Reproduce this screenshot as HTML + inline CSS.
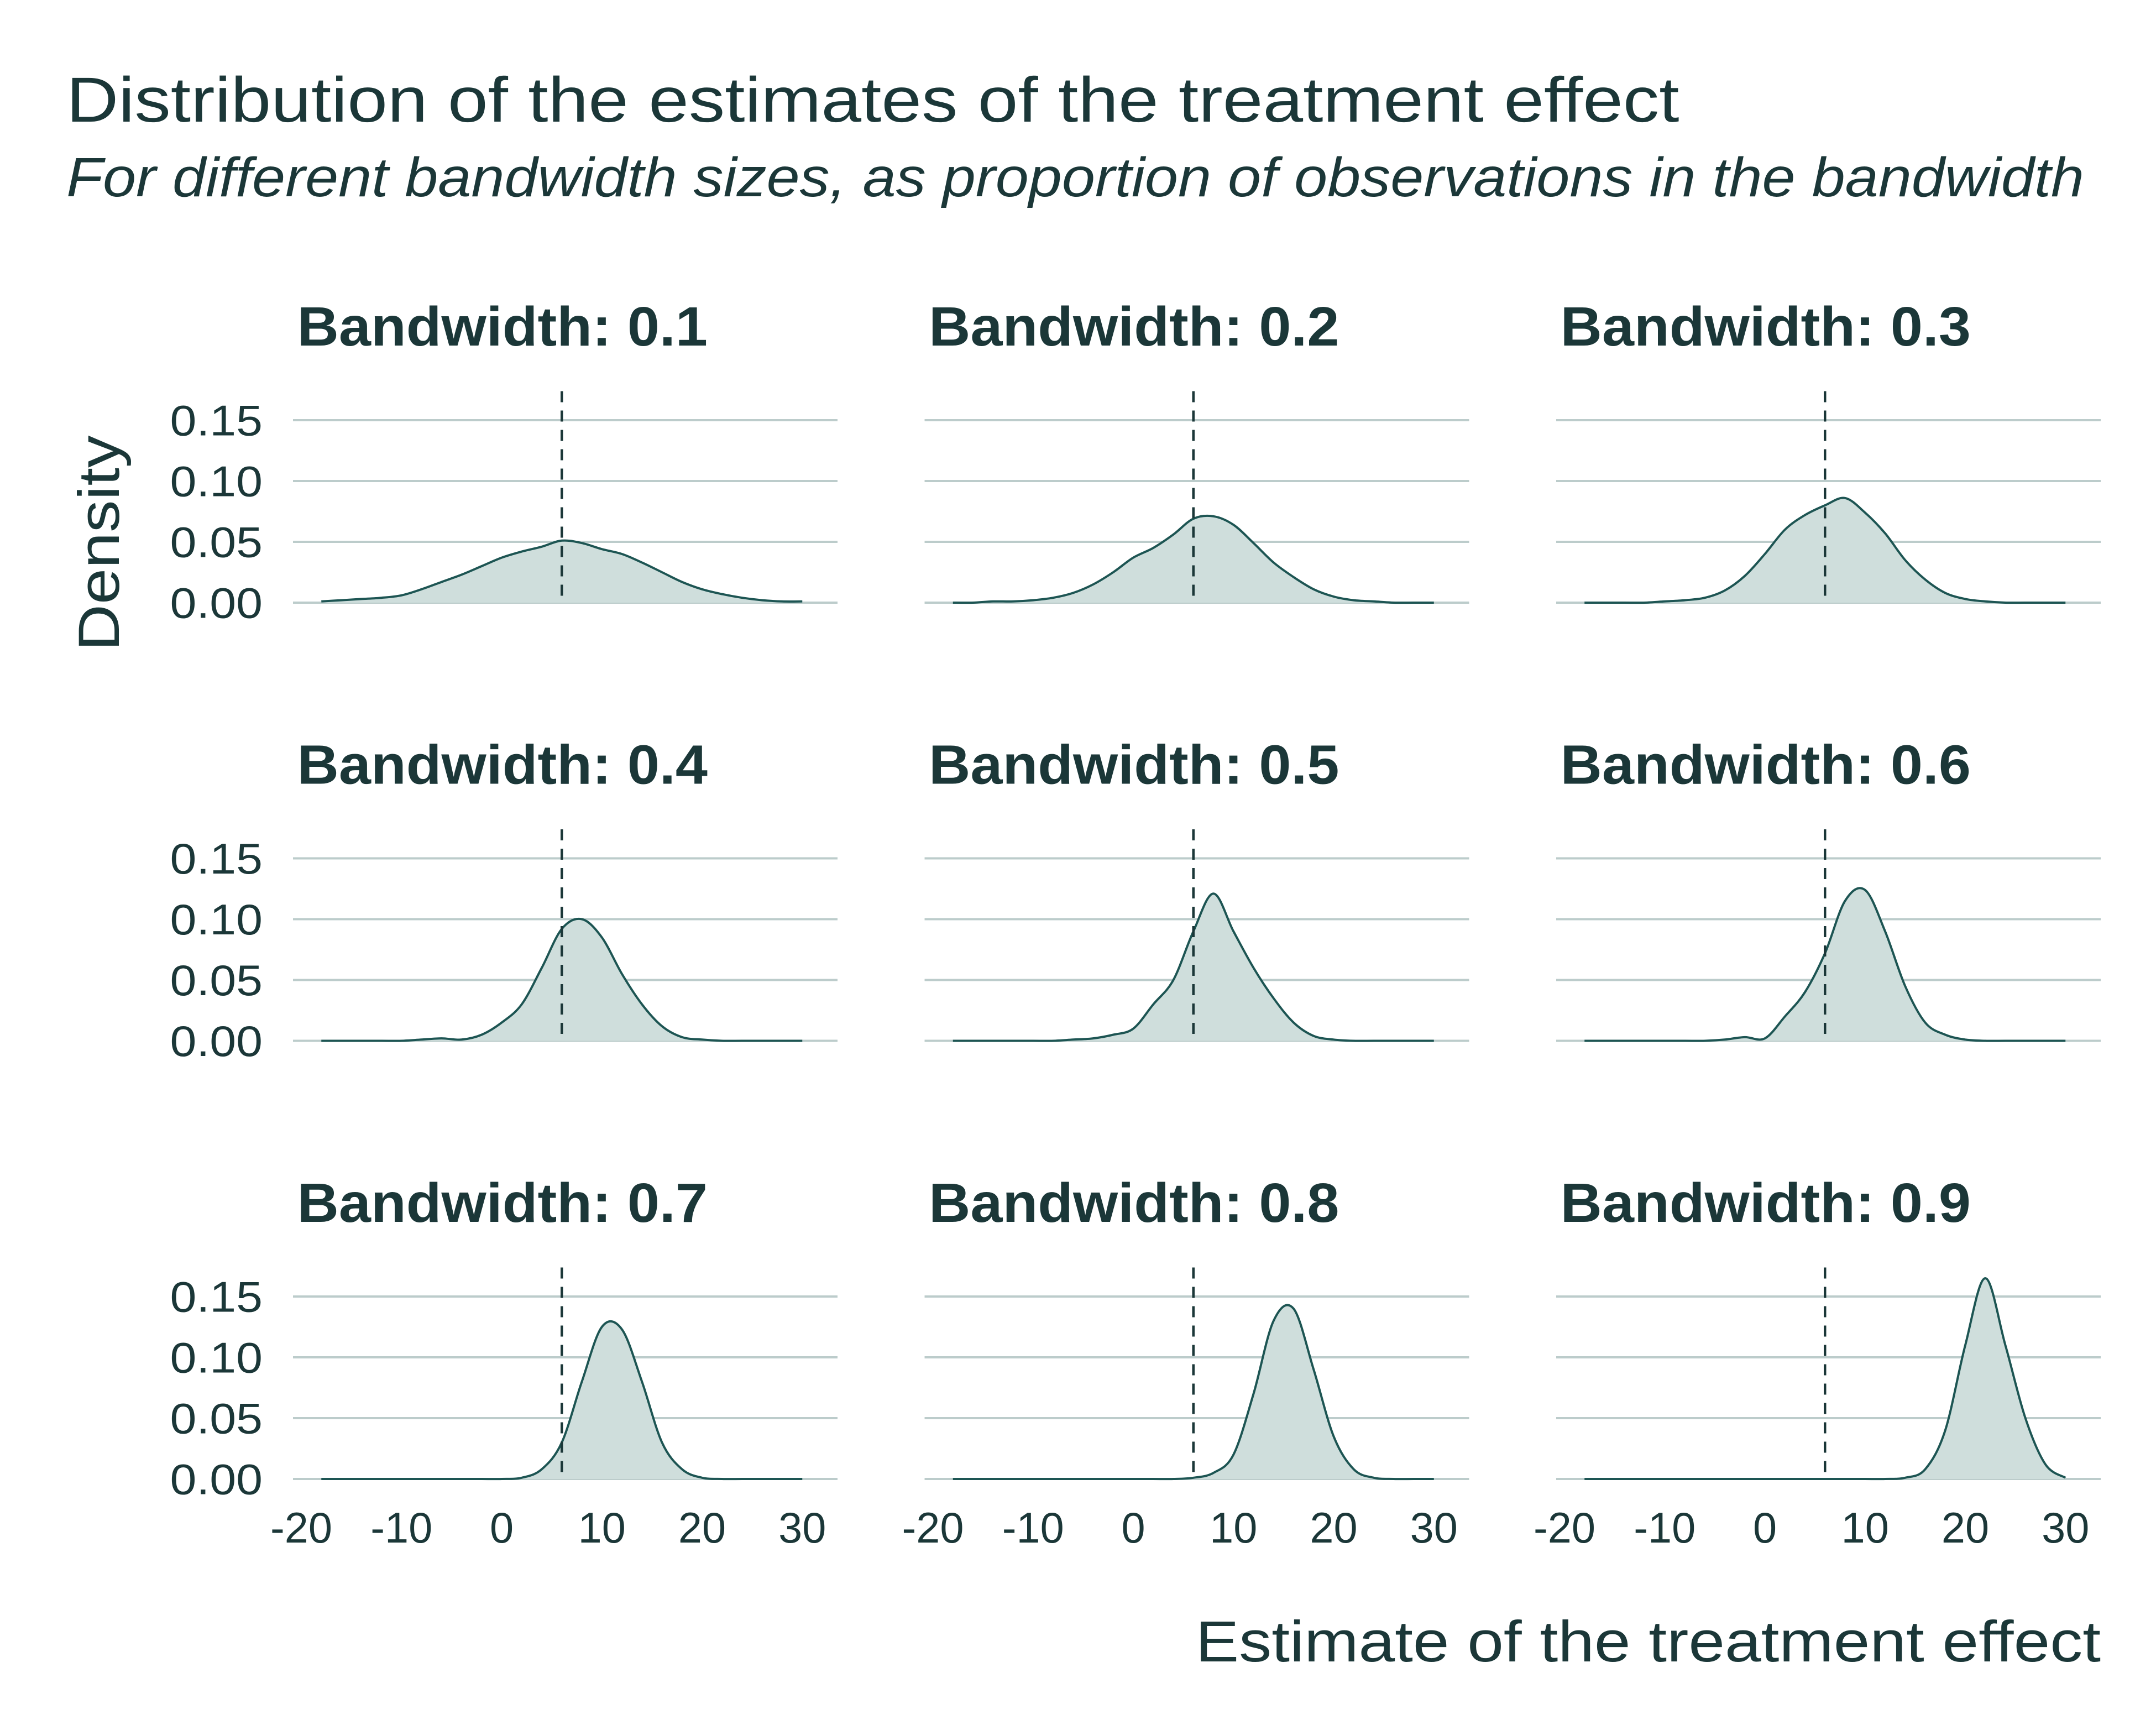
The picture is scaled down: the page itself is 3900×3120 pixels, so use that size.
<!DOCTYPE html>
<html><head><meta charset="utf-8"><style>
html,body{margin:0;padding:0;background:#fff}
svg{display:block}
text{font-family:"Liberation Sans",sans-serif;fill:#1b3738}
</style></head><body>
<svg id="chart" width="3900" height="3120" viewBox="0 0 1560 1248" xmlns="http://www.w3.org/2000/svg">
<rect width="1560" height="1248" fill="#fff"/>
<text x="48" y="88" font-size="46" textLength="1167" lengthAdjust="spacingAndGlyphs">Distribution of the estimates of the treatment effect</text>
<text x="48" y="142" font-size="40" font-style="italic" textLength="1460" lengthAdjust="spacingAndGlyphs">For different bandwidth sizes, as proportion of observations in the bandwidth</text>
<text transform="translate(86,393) rotate(-90)" text-anchor="middle" font-size="42" textLength="156" lengthAdjust="spacingAndGlyphs">Density</text>
<text x="865" y="1202" font-size="42" textLength="655" lengthAdjust="spacingAndGlyphs">Estimate of the treatment effect</text>
<g id="panels"></g>
</svg>
<script>
const bandwidths=["0.1","0.2","0.3","0.4","0.5","0.6","0.7","0.8","0.9"];
const xGrid=[-18,-16,-14,-12,-10,-8,-6,-4,-2,0,2,4,6,8,10,12,14,16,18,20,22,24,26,28,30];
const dens01=[0.001,0.002,0.003,0.004,0.006,0.011,0.017,0.023,0.030,0.037,0.042,0.046,0.051,0.049,0.044,0.040,0.033,0.025,0.017,0.011,0.007,0.004,0.002,0.001,0.001];
const dens02=[0,0,0.001,0.001,0.002,0.004,0.008,0.015,0.025,0.037,0.045,0.056,0.069,0.071,0.064,0.049,0.033,0.021,0.011,0.005,0.002,0.001,0,0,0];
const dens03=[0,0,0,0,0.001,0.002,0.004,0.010,0.022,0.040,0.060,0.072,0.080,0.086,0.074,0.057,0.035,0.019,0.008,0.003,0.001,0,0,0,0];
const dens04=[0,0,0,0,0,0.001,0.002,0.001,0.005,0.015,0.030,0.060,0.092,0.100,0.085,0.055,0.030,0.012,0.003,0.001,0,0,0,0,0];
const dens05=[0,0,0,0,0,0,0.001,0.002,0.005,0.010,0.030,0.050,0.090,0.121,0.090,0.060,0.035,0.015,0.004,0.001,0,0,0,0,0];
const dens06=[0,0,0,0,0,0,0,0.001,0.003,0.002,0.020,0.040,0.072,0.115,0.124,0.090,0.045,0.015,0.005,0.001,0,0,0,0,0];
const dens07=[0,0,0,0,0,0,0,0,0,0,0.001,0.008,0.030,0.080,0.125,0.123,0.080,0.030,0.008,0.001,0,0,0,0,0];
const dens08=[0,0,0,0,0,0,0,0,0,0,0,0,0.001,0.005,0.020,0.070,0.130,0.140,0.090,0.035,0.008,0.001,0,0,0];
const dens09=[0,0,0,0,0,0,0,0,0,0,0,0,0,0,0,0,0.001,0.008,0.040,0.110,0.165,0.110,0.050,0.012,0.001];
const densities=[dens01,dens02,dens03,dens04,dens05,dens06,dens07,dens08,dens09];
const yTicks=[0,0.05,0.10,0.15];
const yTickLabels=["0.00","0.05","0.10","0.15"];
const xTicks=[-20,-10,0,10,20,30];
const xTickLabels=["-20","-10","0","10","20","30"];
const trueEffect=6;

const NS="http://www.w3.org/2000/svg";
const root=document.getElementById('panels');
function mk(tag,attrs,parent){const e=document.createElementNS(NS,tag);for(const k in attrs)e.setAttribute(k,attrs[k]);parent.appendChild(e);return e;}
function smooth(pts){let d="M"+pts[0][0]+","+pts[0][1];for(let i=0;i<pts.length-1;i++){const p0=pts[Math.max(i-1,0)],p1=pts[i],p2=pts[i+1],p3=pts[Math.min(i+2,pts.length-1)];const c1=[p1[0]+(p2[0]-p0[0])/6,p1[1]+(p2[1]-p0[1])/6],c2=[p2[0]-(p3[0]-p1[0])/6,p2[1]-(p3[1]-p1[1])/6];d+=" C"+c1[0].toFixed(2)+","+c1[1].toFixed(2)+" "+c2[0].toFixed(2)+","+c2[1].toFixed(2)+" "+p2[0].toFixed(2)+","+p2[1].toFixed(2);}return d;}
for(let i=0;i<9;i++){
  const col=i%3,row=Math.floor(i/3);
  const ox=col*457,oy=row*317;
  const xs=v=>363+ox+v*7.25;
  const ys=v=>436+oy-v*880;
  const g=mk('g',{},root);
  
  
  const t=mk('text',{x:215+ox,y:250+oy,'font-size':40,'font-weight':'bold',textLength:297,lengthAdjust:'spacingAndGlyphs'},g);
  
  
  t.textContent="Bandwidth: "+bandwidths[i];
  yTicks.forEach((v,k)=>{
    const l=mk('line',{x1:212+ox,x2:606+ox,y1:ys(v),y2:ys(v),stroke:'#bccccb','stroke-width':1.6},g);
    
    
    if(col===0){const tl=mk('text',{x:190,y:ys(v)+11,'text-anchor':'end','font-size':31,textLength:67,lengthAdjust:'spacingAndGlyphs'},g);
      
      
      tl.textContent=yTickLabels[k];}
  });
  const pts=xGrid.map((x,k)=>[xs(x),ys(densities[i][k])]);
  const d=smooth(pts);
  const area=mk('path',{d:d+" L"+pts[pts.length-1][0]+","+ys(0)+" L"+pts[0][0]+","+ys(0)+" Z",fill:'#cfdedc',stroke:'none'},g);
  
  
  const line=mk('path',{d:d,fill:'none',stroke:'#1d5553','stroke-width':1.6},g);
  
  
  const vl=mk('line',{x1:xs(trueEffect),x2:xs(trueEffect),y1:283+oy,y2:ys(0),stroke:'#1b3738','stroke-width':1.8,'stroke-dasharray':'8,6'},g);
  
  
  if(row===2){xTicks.forEach((v,k)=>{const tl=mk('text',{x:xs(v),y:1116,'text-anchor':'middle','font-size':31},g);
    
    
    tl.textContent=xTickLabels[k];});}
}
</script>
</body></html>
